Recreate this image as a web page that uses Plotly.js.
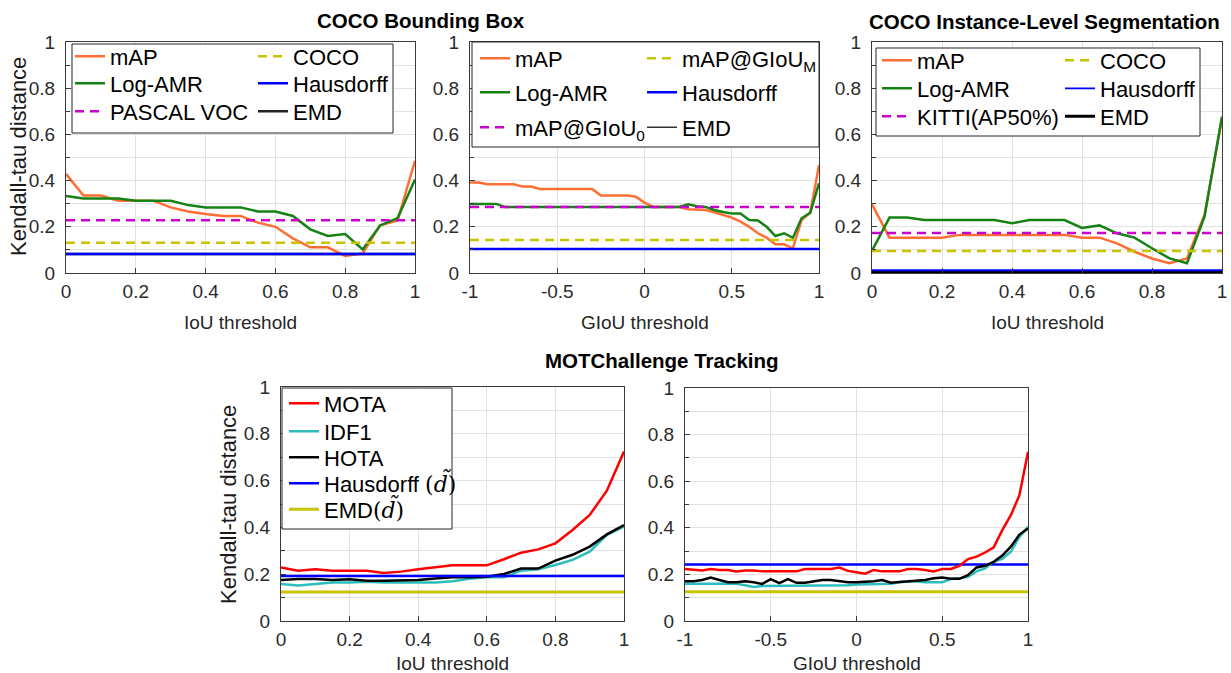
<!DOCTYPE html>
<html>
<head>
<meta charset="utf-8">
<script src="https://cdn.plot.ly/plotly-3.0.1.min.js"></script>
<style>
  html, body { margin: 0; padding: 0; background: #fff; }
  #chart { width: 1231px; height: 673px; }
</style>
</head>
<body>
<div id="chart"></div>
<script>
// ---- thresholds ----
const iouThresholds = [0, 0.05, 0.1, 0.15, 0.2, 0.25, 0.3, 0.35, 0.4, 0.45, 0.5,
  0.55, 0.6, 0.65, 0.7, 0.75, 0.8, 0.85, 0.9, 0.95, 1];
const giouThresholds = [-1, -0.95, -0.9, -0.85, -0.8, -0.75, -0.7, -0.65, -0.6, -0.55, -0.5,
  -0.45, -0.4, -0.35, -0.3, -0.25, -0.2, -0.15, -0.1, -0.05, 0,
  0.05, 0.1, 0.15, 0.2, 0.25, 0.3, 0.35, 0.4, 0.45, 0.5,
  0.55, 0.6, 0.65, 0.7, 0.75, 0.8, 0.85, 0.9, 0.95, 1];

// ---- COCO bounding box, IoU ----
const bbIouMAP = [0.429, 0.335, 0.335, 0.313, 0.313, 0.313, 0.284, 0.266, 0.255, 0.247, 0.247,
  0.218, 0.200, 0.150, 0.111, 0.111, 0.074, 0.085, 0.206, 0.227, 0.486];
const bbIouLogAMR = [0.333, 0.323, 0.323, 0.323, 0.313, 0.313, 0.313, 0.294, 0.284, 0.284, 0.284,
  0.266, 0.266, 0.247, 0.189, 0.160, 0.169, 0.102, 0.206, 0.237, 0.405];
const bbIouPascal = 0.228;
const bbIouCoco = 0.131;
const bbIouHausdorff = 0.082;
const bbIouEMD = 0.082;

// ---- COCO bounding box, GIoU ----
const bbGiouMAP = [0.392, 0.392, 0.384, 0.384, 0.384, 0.384, 0.374, 0.374, 0.364, 0.364, 0.364,
  0.364, 0.364, 0.364, 0.364, 0.336, 0.336, 0.336, 0.336, 0.330, 0.305,
  0.286, 0.286, 0.286, 0.286, 0.276, 0.276, 0.273, 0.263, 0.251, 0.240,
  0.222, 0.200, 0.172, 0.153, 0.124, 0.124, 0.107, 0.229, 0.261, 0.468];
const bbGiouLogAMR = [0.299, 0.299, 0.299, 0.299, 0.286, 0.286, 0.286, 0.286, 0.286, 0.286, 0.286,
  0.286, 0.286, 0.286, 0.286, 0.286, 0.286, 0.286, 0.286, 0.286, 0.286,
  0.286, 0.286, 0.286, 0.286, 0.297, 0.289, 0.286, 0.273, 0.264, 0.258,
  0.258, 0.229, 0.227, 0.200, 0.160, 0.172, 0.152, 0.237, 0.261, 0.388];
const bbGiouZero = 0.286;
const bbGiouM = 0.143;
const bbGiouHausdorff = 0.104;
const bbGiouEMD = 0.104;

// ---- COCO instance segmentation, IoU ----
const segIouMAP = [0.297, 0.153, 0.153, 0.153, 0.153, 0.165, 0.165, 0.165, 0.165, 0.165, 0.165,
  0.165, 0.153, 0.153, 0.128, 0.092, 0.063, 0.042, 0.063, 0.251, 0.670];
const segIouLogAMR = [0.097, 0.240, 0.240, 0.229, 0.229, 0.229, 0.229, 0.229, 0.215, 0.229, 0.229,
  0.229, 0.195, 0.206, 0.172, 0.153, 0.107, 0.063, 0.042, 0.244, 0.677];
const segIouKitti = 0.173;
const segIouCoco = 0.095;
const segIouHausdorff = 0.012;
const segIouEMD = 0.003;

// ---- MOTChallenge, IoU ----
const motIouMOTA = [0.229, 0.215, 0.221, 0.215, 0.215, 0.215, 0.205, 0.211, 0.221, 0.229, 0.238,
  0.238, 0.238, 0.264, 0.292, 0.306, 0.332, 0.389, 0.453, 0.557, 0.724];
const motIouIDF1 = [0.158, 0.152, 0.158, 0.164, 0.164, 0.168, 0.164, 0.164, 0.164, 0.164, 0.170,
  0.181, 0.187, 0.187, 0.215, 0.221, 0.239, 0.261, 0.296, 0.368, 0.403];
const motIouHOTA = [0.175, 0.179, 0.179, 0.175, 0.178, 0.172, 0.172, 0.172, 0.175, 0.182, 0.187,
  0.187, 0.189, 0.201, 0.224, 0.224, 0.258, 0.283, 0.318, 0.370, 0.410];
const motIouHausdorff = 0.192;
const motIouEMD = 0.124;

// ---- MOTChallenge, GIoU ----
const motGiouMOTA = [0.223, 0.221, 0.217, 0.223, 0.219, 0.219, 0.213, 0.217, 0.217, 0.213, 0.213,
  0.213, 0.213, 0.213, 0.223, 0.223, 0.223, 0.223, 0.229, 0.215, 0.209,
  0.203, 0.219, 0.213, 0.213, 0.213, 0.223, 0.223, 0.219, 0.213, 0.223,
  0.223, 0.236, 0.266, 0.276, 0.294, 0.316, 0.390, 0.454, 0.540, 0.725];
const motGiouIDF1 = [0.160, 0.160, 0.160, 0.160, 0.160, 0.160, 0.160, 0.153, 0.146, 0.150, 0.150,
  0.153, 0.150, 0.150, 0.150, 0.150, 0.150, 0.150, 0.153, 0.153, 0.157,
  0.157, 0.157, 0.157, 0.160, 0.166, 0.170, 0.170, 0.166, 0.166, 0.166,
  0.180, 0.183, 0.190, 0.213, 0.226, 0.254, 0.267, 0.297, 0.361, 0.404];
const motGiouHOTA = [0.171, 0.171, 0.176, 0.186, 0.176, 0.166, 0.166, 0.171, 0.166, 0.159, 0.180,
  0.163, 0.180, 0.164, 0.164, 0.170, 0.176, 0.176, 0.171, 0.166, 0.166,
  0.167, 0.171, 0.176, 0.164, 0.167, 0.170, 0.170, 0.176, 0.183, 0.187,
  0.181, 0.181, 0.197, 0.230, 0.237, 0.254, 0.281, 0.319, 0.371, 0.397];
const motGiouHausdorff = 0.243;
const motGiouEMD = 0.126;

// ---- text ----
const tildeD = "<span style=\"font-family:'DejaVu Serif',serif\">(<i>d\u0303</i>)</span>";
const panelTitles = ['COCO Bounding Box', 'COCO Instance-Level Segmentation', 'MOTChallenge Tracking'];
const yAxisTitle = 'Kendall-tau distance';
const iouAxisTitle = 'IoU threshold';
const giouAxisTitle = 'GIoU threshold';
const giouTickVals = [-1, -0.5, 0, 0.5, 1];
const giouTickText = ['-1', '-0.5', '0', '0.5', '1'];

// ---- page geometry (pixels) ----
const W = 1231, H = 673;
const FONT = 'Liberation Sans, Arial, Helvetica, sans-serif';
const px = v => v / W;
const py = v => 1 - v / H;

const C = {
  orange: '#ff6e33', green: '#148214', magenta: '#cc00cc', olive: '#c8c400',
  blue: '#0000ff', black: '#000000', red: '#ff0000', cyan: '#2ebdbd'
};

// plot-area boxes: [left, top, right, bottom]
const panels = [
  { box: [66, 42, 415, 273], x: [0, 1] },
  { box: [470, 42, 819, 273], x: [-1, 1] },
  { box: [872, 42, 1222, 273], x: [0, 1] },
  { box: [281, 387, 624, 621], x: [0, 1] },
  { box: [685, 388, 1028, 621], x: [-1, 1] }
];

// legend frames and entry slots: symbol start x per column, row centre y
const legendFrames = [
  { panel: 0, frame: [72, 44, 393, 133], cols: [75, 258], rows: [57, 84, 112] },
  { panel: 1, frame: [472, 42, 819, 147], cols: [480, 647], rows: [59, 93, 128] },
  { panel: 2, frame: [876, 48, 1200, 136], cols: [882, 1065], rows: [61, 89, 117] },
  { panel: 3, frame: [282, 388, 452, 529], cols: [289], rows: [404, 432, 458, 484, 510] }
];
const LEG_DX = 5;     // symbol offset inside a legend
const LEG_DY = 21.5;  // first-row centre offset inside a legend

const traces = [];
const legends = {};
let legendCount = 0;

function addSeries(p, xs, ys, name, color, width, dash, slot) {
  const axN = p === 0 ? '' : String(p + 1);
  const t = {
    type: 'scatter', mode: 'lines', x: xs, y: ys, name: name,
    xaxis: 'x' + axN, yaxis: 'y' + axN,
    line: { color: color, width: width, dash: dash || 'solid' },
    hoverinfo: 'skip', showlegend: !!slot
  };
  if (slot) {
    legendCount += 1;
    const id = legendCount === 1 ? 'legend' : 'legend' + legendCount;
    t.legend = id;
    const lf = legendFrames.find(f => f.panel === p);
    legends[id] = {
      x: px(lf.cols[slot[0]] - LEG_DX), y: py(lf.rows[slot[1]] - LEG_DY),
      xanchor: 'left', yanchor: 'top',
      bgcolor: 'rgba(0,0,0,0)', borderwidth: 0,
      font: { family: FONT, size: 22, color: '#000' },
      itemclick: false, itemdoubleclick: false
    };
  }
  traces.push(t);
}
function level(p, value) {
  return [panels[p].x, [value, value]];
}
const DASH = '9px,6px';

// COCO bounding box (IoU)
addSeries(0, iouThresholds, bbIouMAP, 'mAP', C.orange, 2.5, null, [0, 0]);
addSeries(0, iouThresholds, bbIouLogAMR, 'Log-AMR', C.green, 2.5, null, [0, 1]);
addSeries(0, ...level(0, bbIouPascal), 'PASCAL VOC', C.magenta, 2.5, DASH, [0, 2]);
addSeries(0, ...level(0, bbIouCoco), 'COCO', C.olive, 2.5, DASH, [1, 0]);
addSeries(0, ...level(0, bbIouEMD), 'EMD', '#222', 2.5, null, [1, 2]);
addSeries(0, ...level(0, bbIouHausdorff), 'Hausdorff', C.blue, 2.5, null, [1, 1]);

// COCO bounding box (GIoU)
addSeries(1, giouThresholds, bbGiouMAP, 'mAP', C.orange, 2.5, null, [0, 0]);
addSeries(1, giouThresholds, bbGiouLogAMR, 'Log-AMR', C.green, 2.5, null, [0, 1]);
addSeries(1, ...level(1, bbGiouZero), 'mAP@GIoU<sub>0</sub>', C.magenta, 2.5, DASH, [0, 2]);
addSeries(1, ...level(1, bbGiouM), 'mAP@GIoU<sub>M</sub>', C.olive, 2.5, DASH, [1, 0]);
addSeries(1, ...level(1, bbGiouEMD), 'EMD', '#333', 1.5, null, [1, 2]);
addSeries(1, ...level(1, bbGiouHausdorff), 'Hausdorff', C.blue, 2.5, null, [1, 1]);

// COCO instance segmentation (IoU)
addSeries(2, iouThresholds, segIouMAP, 'mAP', C.orange, 2.5, null, [0, 0]);
addSeries(2, iouThresholds, segIouLogAMR, 'Log-AMR', C.green, 2.5, null, [0, 1]);
addSeries(2, ...level(2, segIouKitti), 'KITTI(AP50%)', C.magenta, 2.5, DASH, [0, 2]);
addSeries(2, ...level(2, segIouCoco), 'COCO', C.olive, 2.5, DASH, [1, 0]);
addSeries(2, ...level(2, segIouEMD), 'EMD', C.black, 3, null, [1, 2]);
addSeries(2, ...level(2, segIouHausdorff), 'Hausdorff', C.blue, 1.8, null, [1, 1]);

// MOTChallenge (IoU)
addSeries(3, iouThresholds, motIouMOTA, 'MOTA', C.red, 2.5, null, [0, 0]);
addSeries(3, iouThresholds, motIouIDF1, 'IDF1', C.cyan, 2.5, null, [0, 1]);
addSeries(3, iouThresholds, motIouHOTA, 'HOTA', C.black, 2.5, null, [0, 2]);
addSeries(3, ...level(3, motIouHausdorff), 'Hausdorff ' + tildeD, C.blue, 2.5, null, [0, 3]);
addSeries(3, ...level(3, motIouEMD), 'EMD' + tildeD, C.olive, 3, null, [0, 4]);

// MOTChallenge (GIoU) — shares the legend of the IoU panel
addSeries(4, ...level(4, motGiouHausdorff), 'Hausdorff', C.blue, 2.5, null, null);
addSeries(4, ...level(4, motGiouEMD), 'EMD', C.olive, 3, null, null);
addSeries(4, giouThresholds, motGiouIDF1, 'IDF1', C.cyan, 2.5, null, null);
addSeries(4, giouThresholds, motGiouHOTA, 'HOTA', C.black, 2.5, null, null);
addSeries(4, giouThresholds, motGiouMOTA, 'MOTA', C.red, 2.5, null, null);

// ---- axes ----
const layout = {
  width: W, height: H,
  margin: { l: 0, r: 0, t: 0, b: 0, pad: 0 },
  paper_bgcolor: '#ffffff', plot_bgcolor: '#ffffff',
  showlegend: true,
  font: { family: FONT, color: '#262626' },
  shapes: [], annotations: []
};

const GRID = '#e2e2e2';
panels.forEach((p, i) => {
  const n = i === 0 ? '' : String(i + 1);
  const [l, t, r, b] = p.box;
  const isGiou = p.x[0] < 0;
  const xa = {
    domain: [px(l), px(r)], range: p.x, anchor: 'y' + n,
    showline: true, mirror: true, linecolor: '#3a3a3a', linewidth: 1,
    showgrid: true, gridcolor: GRID, gridwidth: 1, zeroline: false,
    ticks: 'inside', ticklen: 5, tickcolor: '#3a3a3a',
    tickfont: { family: FONT, size: 19, color: '#2b2b2b' },
    ticklabelstandoff: 1, fixedrange: true
  };
  if (isGiou) { xa.tickmode = 'array'; xa.tickvals = giouTickVals; xa.ticktext = giouTickText; }
  else { xa.tick0 = 0; xa.dtick = 0.2; }
  const ya = {
    domain: [py(b), py(t)], range: [0, 1], anchor: 'x' + n,
    showline: true, mirror: true, linecolor: '#3a3a3a', linewidth: 1,
    showgrid: true, gridcolor: GRID, gridwidth: 1, zeroline: false,
    ticks: 'inside', ticklen: 5, tickcolor: '#3a3a3a', tick0: 0, dtick: 0.2,
    minor: { dtick: 0.1, showgrid: true, gridcolor: GRID, ticks: 'inside', ticklen: 4, tickcolor: '#3a3a3a' },
    tickfont: { family: FONT, size: 19, color: '#2b2b2b' },
    ticklabelstandoff: 6, fixedrange: true
  };
  layout['xaxis' + n] = xa;
  layout['yaxis' + n] = ya;

  // axis titles
  layout.annotations.push({
    xref: 'paper', yref: 'paper', x: px((l + r) / 2), y: py(i < 3 ? 322 : 663),
    xanchor: 'center', yanchor: 'middle', showarrow: false,
    text: isGiou ? giouAxisTitle : iouAxisTitle,
    font: { family: FONT, size: 19, color: '#262626' }
  });
});

[[18, 157], [228, 505]].forEach(([x, y]) => {
  layout.annotations.push({
    xref: 'paper', yref: 'paper', x: px(x), y: py(y), xanchor: 'center', yanchor: 'middle',
    showarrow: false, textangle: -90, text: yAxisTitle,
    font: { family: FONT, size: 22, color: '#1a1a1a' }
  });
});

// figure headings
[[panelTitles[0], 421, 20], [panelTitles[1], 1044, 21], [panelTitles[2], 662, 360]].forEach(([txt, x, y]) => {
  layout.annotations.push({
    xref: 'paper', yref: 'paper', x: px(x), y: py(y), xanchor: 'center', yanchor: 'middle',
    showarrow: false, text: '<b>' + txt + '</b>',
    font: { family: FONT, size: 20.5, color: '#000' }
  });
});

// legend frames
legendFrames.forEach(f => {
  const [l, t, r, b] = f.frame;
  layout.shapes.push({
    type: 'rect', xref: 'paper', yref: 'paper', layer: 'above',
    x0: px(l), x1: px(r), y0: py(b), y1: py(t),
    fillcolor: '#ffffff', line: { color: '#262626', width: 1 }
  });
});

Object.assign(layout, legends);

Plotly.newPlot('chart', traces, layout, { staticPlot: true, displayModeBar: false });
</script>
</body>
</html>
